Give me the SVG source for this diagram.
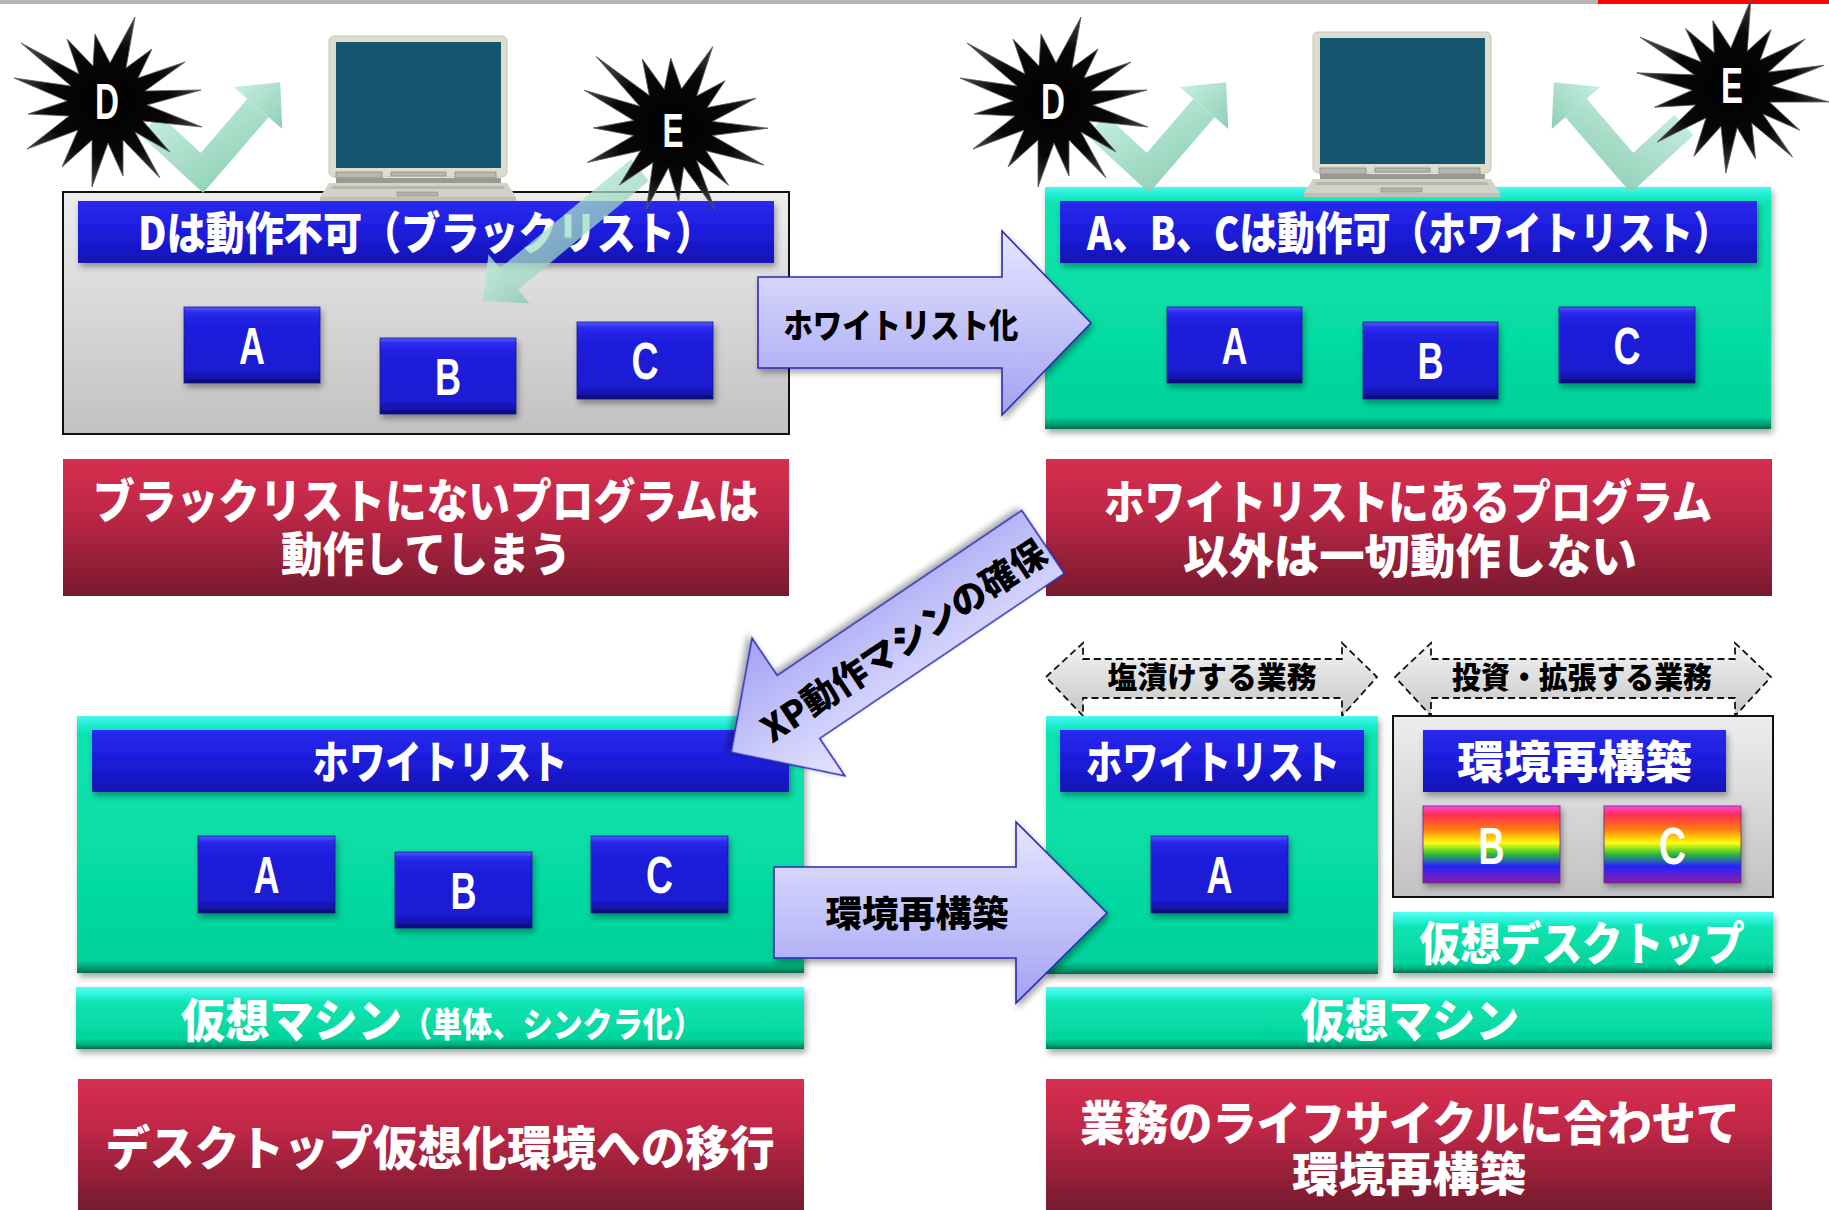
<svg xmlns="http://www.w3.org/2000/svg" xmlns:xlink="http://www.w3.org/1999/xlink" width="1829" height="1210" viewBox="0 0 1829 1210">
  <style>
    .cjk { font-family: "Noto Sans CJK JP", "Noto Sans CJK SC", sans-serif; font-weight: 900; }
    .lat { font-family: "Liberation Sans", Arial, sans-serif; font-weight: 700; }
    .w { fill: #ffffff; }
    .k { fill: #000000; }
    .mid { text-anchor: middle; }
    .grayBox { fill: url(#gGray); stroke: #111111; stroke-width: 2; }
    .greenBox { fill: url(#gGreen); filter: url(#shadow); }
    .greenBar { fill: url(#gGreenBar); filter: url(#shadow); }
    .header { fill: url(#gHeader); filter: url(#shadow); }
    .btn { fill: url(#gBtn); stroke: #14148a; stroke-width: 0.8; filter: url(#shadow); }
    .rainbow { fill: url(#gRainbow); stroke: #6a2a7a; stroke-width: 0.8; filter: url(#shadow); }
    .red { fill: url(#gRed); }
    .bigArrow { fill: url(#gArrow); stroke: #2a2ab4; stroke-width: 1.6; filter: url(#shadow); }
    .dashArrow { fill: url(#gDash); stroke: #111111; stroke-width: 1.8; stroke-dasharray: 7 4; }
    .star { fill: url(#gStar); stroke: #5a5a5a; stroke-width: 0.8; }
  </style>
  <defs>
    <filter id="shadow" x="-5%" y="-10%" width="112%" height="135%">
      <feDropShadow dx="2" dy="4" stdDeviation="3" flood-color="#000000" flood-opacity="0.35"/>
    </filter>
    <linearGradient id="gGray" x1="0" y1="0" x2="0" y2="1">
      <stop offset="0" stop-color="#ededed"/>
      <stop offset="1" stop-color="#c2c2c2"/>
    </linearGradient>
    <linearGradient id="gGreen" x1="0" y1="0" x2="0" y2="1">
      <stop offset="0" stop-color="#4cf8f0"/>
      <stop offset="0.03" stop-color="#22eed4"/>
      <stop offset="0.07" stop-color="#0ae4b0"/>
      <stop offset="0.5" stop-color="#07dea6"/>
      <stop offset="0.95" stop-color="#05d29a"/>
      <stop offset="0.975" stop-color="#04a878"/>
      <stop offset="1" stop-color="#037050"/>
    </linearGradient>
    <linearGradient id="gGreenBar" x1="0" y1="0" x2="0" y2="1">
      <stop offset="0" stop-color="#55fff4"/>
      <stop offset="0.12" stop-color="#30f2dc"/>
      <stop offset="0.25" stop-color="#0ae4b2"/>
      <stop offset="0.85" stop-color="#05d49c"/>
      <stop offset="0.93" stop-color="#04a878"/>
      <stop offset="1" stop-color="#037050"/>
    </linearGradient>
    <linearGradient id="gHeader" x1="0" y1="0" x2="0" y2="1">
      <stop offset="0" stop-color="#2a2aee"/>
      <stop offset="0.5" stop-color="#1c1cdc"/>
      <stop offset="1" stop-color="#1414b4"/>
    </linearGradient>
    <linearGradient id="gBtn" x1="0" y1="0" x2="0" y2="1">
      <stop offset="0" stop-color="#5a5aff"/>
      <stop offset="0.07" stop-color="#2c2cf0"/>
      <stop offset="0.16" stop-color="#2020e0"/>
      <stop offset="0.84" stop-color="#1a1ad0"/>
      <stop offset="0.93" stop-color="#1313a8"/>
      <stop offset="1" stop-color="#0c0c70"/>
    </linearGradient>
    <linearGradient id="gRainbow" x1="0" y1="0" x2="0" y2="1">
      <stop offset="0" stop-color="#ff48d8"/>
      <stop offset="0.12" stop-color="#ff3050"/>
      <stop offset="0.3" stop-color="#ff7a10"/>
      <stop offset="0.48" stop-color="#ffff10"/>
      <stop offset="0.62" stop-color="#30c030"/>
      <stop offset="0.78" stop-color="#2424ff"/>
      <stop offset="1" stop-color="#8a1ea8"/>
    </linearGradient>
    <linearGradient id="gRed" x1="0" y1="0" x2="0" y2="1">
      <stop offset="0" stop-color="#d72e4e"/>
      <stop offset="0.35" stop-color="#c22848"/>
      <stop offset="1" stop-color="#761a2e"/>
    </linearGradient>
    <linearGradient id="gArrow" x1="0" y1="0" x2="0" y2="1">
      <stop offset="0" stop-color="#e6e6ff"/>
      <stop offset="1" stop-color="#a2a2f4"/>
    </linearGradient>
    <linearGradient id="gDash" x1="0" y1="0" x2="0" y2="1">
      <stop offset="0" stop-color="#f4f4f4"/>
      <stop offset="1" stop-color="#c6c6c6"/>
    </linearGradient>
    <linearGradient id="gMint" x1="0" y1="0" x2="1" y2="1">
      <stop offset="0" stop-color="#c2f0de"/>
      <stop offset="1" stop-color="#84caaf"/>
    </linearGradient>
    <radialGradient id="gStar" cx="0.5" cy="0.5" r="0.5">
      <stop offset="0" stop-color="#000000"/>
      <stop offset="0.65" stop-color="#080808"/>
      <stop offset="1" stop-color="#404040"/>
    </radialGradient>

    <!-- burst shape, centred on the origin -->
    <path id="burst" class="star" d="M-12,-69 L3,-40 L28,-86 L19,-35 L45,-54 L31,-25 L78,-41 L38,-12 L94,-13 L40,2 L95,24 L36,18 L63,49 L28,29 L53,75 L16,37 L16,73 L1,40 L-15,84 L-15,37 L-45,64 L-29,27 L-80,46 L-38,13 L-79,11 L-40,-2 L-93,-25 L-36,-17 L-86,-60 L-28,-29 L-40,-64 L-14,-37 Z"/>

    <!-- bouncing V arrow next to a burst -->
    <g id="vArrow">
      <path d="M150,125 L202,173 L258,108" fill="none" stroke="url(#gMint)" stroke-width="28" stroke-linejoin="miter"/>
      <polygon points="233.7,87.1 280.2,82.2 282.3,128.9" fill="url(#gMint)"/>
    </g>

    <!-- notebook computer -->
    <g id="laptopShape">
      <rect x="329" y="36" width="178" height="141" rx="5" fill="#dcdcd0" stroke="#c6c6ba" stroke-width="1"/>
      <rect x="336" y="42" width="165" height="126" fill="#16556e"/>
      <rect x="336" y="172" width="46" height="6" fill="#b8b8b0" stroke="#8a8a84" stroke-width="0.8"/>
      <rect x="391" y="172" width="55" height="4" fill="#b8b8b0" stroke="#8a8a84" stroke-width="0.8"/>
      <rect x="455" y="172" width="41" height="6" fill="#b8b8b0" stroke="#8a8a84" stroke-width="0.8"/>
      <rect x="336" y="178" width="165" height="5" fill="#9a9a92"/>
      <polygon points="329,183 507,183 516,197 320,197" fill="#d2d2c8"/>
      <polygon points="333,186 503,186 505,189 331,189" fill="#b6b6ae"/>
      <rect x="320" y="197" width="196" height="4" fill="#c0c0b6"/>
      <rect x="397" y="192" width="41" height="4" fill="#b2b2aa" stroke="#8a8a84" stroke-width="0.6"/>
    </g>
  </defs>

  <rect x="0" y="0" width="1829" height="1210" fill="#ffffff"/>

  <!-- title rule -->
  <g id="title-rule">
    <rect x="0" y="0" width="1598" height="4" fill="#b4b4b4"/>
    <rect x="1598" y="0" width="231" height="4" fill="#ff0000"/>
  </g>

  <!-- ===== upper left: blacklist ===== -->
  <g id="blacklist-panel">
    <rect class="grayBox" x="63" y="192" width="726" height="242"/>
    <rect class="header" x="78" y="201" width="696" height="62"/>
    <text class="cjk w mid" x="426" y="250" font-size="45" textLength="576" lengthAdjust="spacingAndGlyphs">Dは動作不可（ブラックリスト）</text>
  </g>
  <g id="bl-app-a">
    <rect class="btn" x="184" y="307" width="136" height="76"/>
    <text class="lat w mid" x="252" y="364" font-size="52" textLength="26" lengthAdjust="spacingAndGlyphs">A</text>
  </g>
  <g id="bl-app-b">
    <rect class="btn" x="380" y="338" width="136" height="76"/>
    <text class="lat w mid" x="448" y="395" font-size="52" textLength="26" lengthAdjust="spacingAndGlyphs">B</text>
  </g>
  <g id="bl-app-c">
    <rect class="btn" x="577" y="322" width="136" height="77"/>
    <text class="lat w mid" x="645" y="379" font-size="52" textLength="27" lengthAdjust="spacingAndGlyphs">C</text>
  </g>
  <g id="bl-laptop"><use href="#laptopShape"/></g>
  <g id="bl-threat-d">
    <use href="#vArrow" opacity="0.9"/>
    <use href="#burst" transform="translate(107,103)"/>
    <text class="lat w mid" x="107" y="119" font-size="50" textLength="24" lengthAdjust="spacingAndGlyphs">D</text>
  </g>
  <g id="bl-threat-e">
    <g opacity="0.75">
      <path d="M640,170 L509,279" fill="none" stroke="url(#gMint)" stroke-width="28"/>
      <polygon points="529.5,303.6 482.8,300.8 488.5,254.4" fill="url(#gMint)"/>
    </g>
    <use href="#burst" transform="translate(673,128) rotate(8)"/>
    <text class="lat w mid" x="673" y="147" font-size="48" textLength="21" lengthAdjust="spacingAndGlyphs">E</text>
  </g>

  <!-- ===== upper right: whitelist ===== -->
  <g id="whitelist-panel">
    <rect class="greenBox" x="1045" y="187" width="726" height="242"/>
    <rect class="header" x="1060" y="201" width="697" height="62"/>
    <text class="cjk w mid" x="1409" y="250" font-size="45" textLength="644" lengthAdjust="spacingAndGlyphs">A、B、Cは動作可（ホワイトリスト）</text>
  </g>
  <g id="wl-app-a">
    <rect class="btn" x="1167" y="307" width="135" height="76"/>
    <text class="lat w mid" x="1234.5" y="364" font-size="52" textLength="26" lengthAdjust="spacingAndGlyphs">A</text>
  </g>
  <g id="wl-app-b">
    <rect class="btn" x="1363" y="322" width="135" height="77"/>
    <text class="lat w mid" x="1430.5" y="379" font-size="52" textLength="26" lengthAdjust="spacingAndGlyphs">B</text>
  </g>
  <g id="wl-app-c">
    <rect class="btn" x="1559" y="307" width="136" height="76"/>
    <text class="lat w mid" x="1627" y="364" font-size="52" textLength="27" lengthAdjust="spacingAndGlyphs">C</text>
  </g>
  <g id="wl-laptop"><use href="#laptopShape" transform="translate(984,-4)"/></g>
  <g id="wl-threat-d">
    <use href="#vArrow" transform="translate(946,0)" opacity="0.9"/>
    <use href="#burst" transform="translate(1053,103)"/>
    <text class="lat w mid" x="1053" y="119" font-size="50" textLength="24" lengthAdjust="spacingAndGlyphs">D</text>
  </g>
  <g id="wl-threat-e">
    <use href="#vArrow" transform="translate(1834,0) scale(-1,1)" opacity="0.9"/>
    <use href="#burst" transform="translate(1732,88) rotate(-6)"/>
    <text class="lat w mid" x="1732" y="103" font-size="50" textLength="22" lengthAdjust="spacingAndGlyphs">E</text>
  </g>

  <!-- ===== captions, upper row ===== -->
  <g id="caption-blacklist">
    <rect class="red" x="63" y="459" width="726" height="137"/>
    <text class="cjk w mid" x="426" y="518" font-size="47" textLength="666" lengthAdjust="spacingAndGlyphs">ブラックリストにないプログラムは</text>
    <text class="cjk w mid" x="426" y="571" font-size="47" textLength="290" lengthAdjust="spacingAndGlyphs">動作してしまう</text>
  </g>
  <g id="caption-whitelist">
    <rect class="red" x="1046" y="459" width="726" height="137"/>
    <text class="cjk w mid" x="1408" y="519" font-size="47" textLength="608" lengthAdjust="spacingAndGlyphs">ホワイトリストにあるプログラム</text>
    <text class="cjk w mid" x="1410" y="573" font-size="47" textLength="454" lengthAdjust="spacingAndGlyphs">以外は一切動作しない</text>
  </g>

  <!-- ===== lower left: virtual machine ===== -->
  <g id="vm-panel">
    <rect class="greenBox" x="77" y="716" width="727" height="257"/>
    <rect class="header" x="92" y="730" width="697" height="62"/>
    <text class="cjk w mid" x="440" y="779" font-size="45" textLength="255" lengthAdjust="spacingAndGlyphs">ホワイトリスト</text>
  </g>
  <g id="vm-app-a">
    <rect class="btn" x="198" y="836" width="137" height="77"/>
    <text class="lat w mid" x="266.5" y="893" font-size="52" textLength="26" lengthAdjust="spacingAndGlyphs">A</text>
  </g>
  <g id="vm-app-b">
    <rect class="btn" x="395" y="852" width="137" height="76"/>
    <text class="lat w mid" x="463.5" y="909" font-size="52" textLength="26" lengthAdjust="spacingAndGlyphs">B</text>
  </g>
  <g id="vm-app-c">
    <rect class="btn" x="591" y="836" width="137" height="77"/>
    <text class="lat w mid" x="659.5" y="893" font-size="52" textLength="27" lengthAdjust="spacingAndGlyphs">C</text>
  </g>
  <g id="vm-base">
    <rect class="greenBar" x="76" y="987" width="728" height="62"/>
    <text class="cjk w" x="181" y="1037" font-size="46" textLength="221" lengthAdjust="spacingAndGlyphs">仮想マシン</text>
    <text class="cjk w" x="402" y="1037" font-size="34" textLength="301" lengthAdjust="spacingAndGlyphs">（単体、シンクラ化）</text>
  </g>
  <g id="caption-migration">
    <rect class="red" x="78" y="1079" width="726" height="131"/>
    <text class="cjk w mid" x="440" y="1165" font-size="47" textLength="669" lengthAdjust="spacingAndGlyphs">デスクトップ仮想化環境への移行</text>
  </g>

  <!-- ===== lower right: lifecycle split ===== -->
  <g id="span-frozen">
    <polygon class="dashArrow" points="1046,677 1083,643 1083,659 1342,659 1342,643 1377,677 1342,716 1342,698 1083,698 1083,716"/>
    <text class="cjk k mid" x="1212" y="688" font-size="30" textLength="209" lengthAdjust="spacingAndGlyphs">塩漬けする業務</text>
  </g>
  <g id="span-invest">
    <polygon class="dashArrow" points="1395,677 1431,643 1431,659 1735,659 1735,643 1771,677 1735,716 1735,698 1431,698 1431,716"/>
    <text class="cjk k mid" x="1582" y="688" font-size="30" textLength="260" lengthAdjust="spacingAndGlyphs">投資・拡張する業務</text>
  </g>
  <g id="legacy-panel">
    <rect class="greenBox" x="1046" y="716" width="332" height="258"/>
    <rect class="header" x="1060" y="730" width="304" height="62"/>
    <text class="cjk w mid" x="1213" y="779" font-size="45" textLength="254" lengthAdjust="spacingAndGlyphs">ホワイトリスト</text>
  </g>
  <g id="legacy-app-a">
    <rect class="btn" x="1151" y="836" width="137" height="77"/>
    <text class="lat w mid" x="1219.5" y="893" font-size="52" textLength="26" lengthAdjust="spacingAndGlyphs">A</text>
  </g>
  <g id="rebuild-panel">
    <rect class="grayBox" x="1393" y="716" width="380" height="181"/>
    <rect class="header" x="1423" y="730" width="303" height="62"/>
    <text class="cjk w mid" x="1574.5" y="779" font-size="45" textLength="235" lengthAdjust="spacingAndGlyphs">環境再構築</text>
  </g>
  <g id="rebuild-app-b">
    <rect class="rainbow" x="1423" y="806" width="137" height="77"/>
    <text class="lat w mid" x="1491.5" y="864" font-size="52" textLength="26" lengthAdjust="spacingAndGlyphs">B</text>
  </g>
  <g id="rebuild-app-c">
    <rect class="rainbow" x="1604" y="806" width="137" height="77"/>
    <text class="lat w mid" x="1672.5" y="864" font-size="52" textLength="27" lengthAdjust="spacingAndGlyphs">C</text>
  </g>
  <g id="vdesktop-base">
    <rect class="greenBar" x="1393" y="912" width="380" height="61"/>
    <text class="cjk w mid" x="1582" y="960" font-size="46" textLength="325" lengthAdjust="spacingAndGlyphs">仮想デスクトップ</text>
  </g>
  <g id="vm-base-right">
    <rect class="greenBar" x="1046" y="987" width="726" height="62"/>
    <text class="cjk w mid" x="1410" y="1037" font-size="46" textLength="218" lengthAdjust="spacingAndGlyphs">仮想マシン</text>
  </g>
  <g id="caption-lifecycle">
    <rect class="red" x="1046" y="1079" width="726" height="131"/>
    <text class="cjk w mid" x="1410" y="1140" font-size="47" textLength="660" lengthAdjust="spacingAndGlyphs">業務のライフサイクルに合わせて</text>
    <text class="cjk w mid" x="1409" y="1191" font-size="47" textLength="234" lengthAdjust="spacingAndGlyphs">環境再構築</text>
  </g>

  <!-- ===== transition arrows ===== -->
  <g id="connectors">
    <g id="arrow-whitelisting">
      <polygon class="bigArrow" points="758,277 1002,277 1002,231 1091,323 1002,415 1002,368 758,368"/>
      <text class="cjk k mid" x="901" y="338" font-size="34" textLength="235" lengthAdjust="spacingAndGlyphs">ホワイトリスト化</text>
    </g>
    <g id="arrow-xp">
      <polygon class="bigArrow" points="0,-38 295,-38 295,-83 376,0 295,83 295,38 0,38" transform="translate(1043,542) rotate(146)"/>
      <text class="cjk k mid" x="0" y="13" font-size="36" textLength="333" lengthAdjust="spacingAndGlyphs" transform="translate(904,641) rotate(-33.5)">XP動作マシンの確保</text>
    </g>
    <g id="arrow-rebuild">
      <polygon class="bigArrow" points="774,867 1016,867 1016,822 1107,913 1016,1003 1016,958 774,958"/>
      <text class="cjk k mid" x="917" y="927" font-size="36" textLength="183" lengthAdjust="spacingAndGlyphs">環境再構築</text>
    </g>
  </g>
</svg>
